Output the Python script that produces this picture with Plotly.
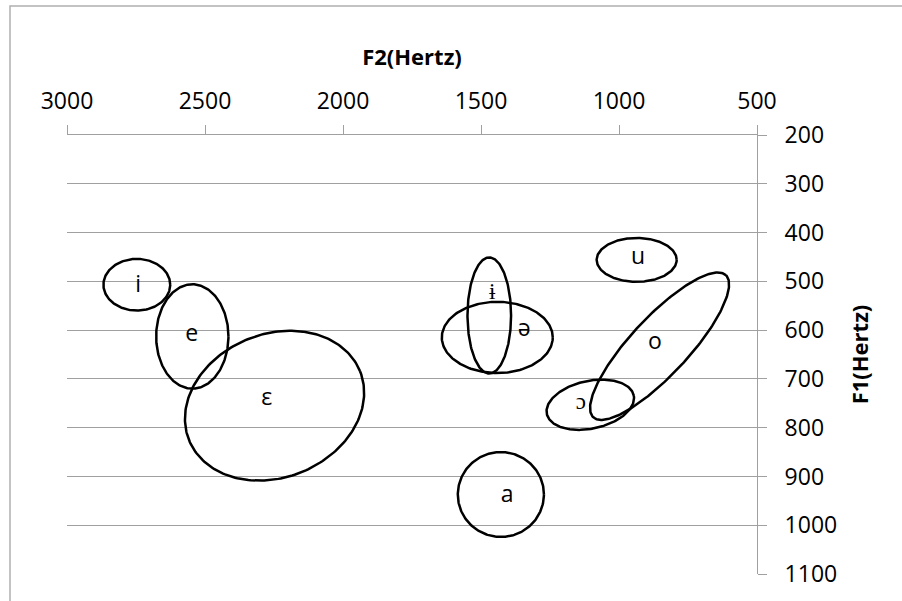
import numpy as np
import plotly.graph_objects as go

# Vowel ellipses: centre (F2, F1), semi-axes (in F2-Hz / F1-Hz), tilt (deg, on screen)
vowels = ["i", "e", "ε", "ɨ", "ə", "u", "o", "ɔ", "a"]
center_f2 = [2747, 2546, 2248, 1470, 1441, 936, 853, 1104, 1428]
center_f1 = [507, 613, 755, 570, 615, 456, 633, 753, 937]
semi_f2 = [121, 131, 334, 79, 201, 145, 352, 161, 156]
semi_f1 = [53, 107, 147, 119, 73, 45, 59, 49, 87]
tilt_deg = [0, 0, 22, 0, 0, 0, 47, 12, 0]

# Label positions
label_f2 = [2742, 2548, 2276, 1459, 1343, 931, 870, 1138, 1405]
label_f1 = [510, 610, 742, 525, 601, 452, 626, 750, 940]

x_range = [3000, 500]
y_range = [1100, 200]
x_ticks = [3000, 2500, 2000, 1500, 1000, 500]
y_ticks = [200, 300, 400, 500, 600, 700, 800, 900, 1000, 1100]

W, H = 902, 601
ML, MR, MT, MB = 67, 145, 135, 27
pw, ph = W - ML - MR, H - MT - MB
sx = pw / abs(x_range[0] - x_range[1])
sy = ph / abs(y_range[0] - y_range[1])

FONT = "Open Sans"
fig = go.Figure()
t = np.linspace(0, 2 * np.pi, 241)
for cx, cy, a_hz, b_hz, th in zip(center_f2, center_f1, semi_f2, semi_f1, tilt_deg):
    a = a_hz * sx
    b = b_hz * sy
    r = np.radians(th)
    dx = a * np.cos(t) * np.cos(r) - b * np.sin(t) * np.sin(r)
    dy = a * np.cos(t) * np.sin(r) + b * np.sin(t) * np.cos(r)
    fig.add_trace(go.Scatter(x=cx - dx / sx, y=cy - dy / sy, mode="lines",
                             line=dict(color="black", width=2.5),
                             showlegend=False, hoverinfo="skip"))

fig.add_trace(go.Scatter(x=label_f2, y=label_f1, mode="text", text=vowels,
                         textfont=dict(family=FONT, size=23, color="black"),
                         showlegend=False, hoverinfo="skip"))

fig.update_layout(
    width=W, height=H,
    margin=dict(l=ML, r=MR, t=MT, b=MB),
    paper_bgcolor="white", plot_bgcolor="white",
    font=dict(family=FONT, size=23, color="black"),
    xaxis=dict(side="top", range=x_range, tickvals=x_ticks,
               ticks="outside", ticklen=9, tickcolor="#a0a0a0",
               ticklabelstandoff=7,
               showline=True, linecolor="#a0a0a0", linewidth=1,
               showgrid=False, zeroline=False,
               title=dict(text="<b>F2(Hertz)</b>", standoff=12,
                          font=dict(family=FONT, size=22))),
    yaxis=dict(side="right", range=y_range, tickvals=y_ticks,
               ticks="outside", ticklen=9, tickcolor="#a0a0a0",
               ticklabelstandoff=13,
               showline=True, linecolor="#a0a0a0", linewidth=1,
               showgrid=True, gridcolor="#a0a0a0", gridwidth=1,
               zeroline=False,
               title=dict(text="<b>F1(Hertz)</b>", standoff=16,
                          font=dict(family=FONT, size=22))),
)

# chart border (partly outside the visible window, as in the reference)
fig.add_shape(type="rect", xref="paper", yref="paper",
              x0=(10 - ML) / pw, x1=(W + 20 - ML) / pw,
              y0=-0.2, y1=(H - 6 - MB) / ph,
              line=dict(color="#b0b0b0", width=1.5), layer="below")

fig.write_html("out.html", config={"displayModeBar": False},
               post_script="document.body.style.margin='0';"
                           "document.body.style.overflow='hidden';")
